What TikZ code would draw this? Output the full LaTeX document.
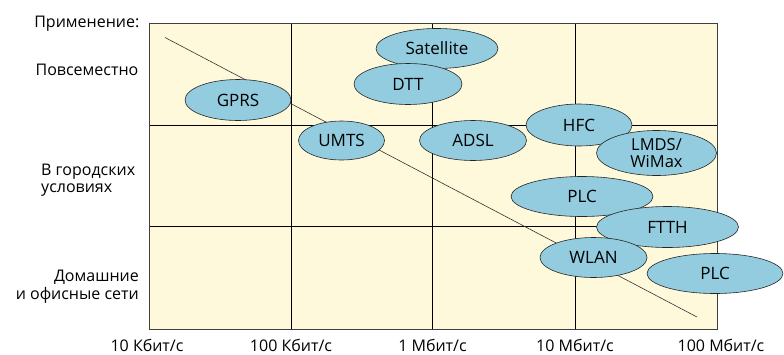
\documentclass[tikz,border=0pt]{standalone}
\usepackage{fontspec}
\setmainfont{Open Sans}
\usetikzlibrary{shapes.geometric}
\definecolor{gridbg}{RGB}{255,249,219}
\definecolor{techfill}{RGB}{146,204,222}
\begin{document}
\begin{tikzpicture}[x=1pt,y=-1pt,
  font=\fontsize{16}{18}\selectfont,
  tech/.style={ellipse,draw=black!85,line width=0.6pt,fill=techfill,inner sep=0pt,
    font=\fontsize{17}{18}\selectfont},
  gridline/.style={black,line width=0.8pt},
  axislabel/.style={anchor=base,inner sep=0pt},
  rowlabel/.style={anchor=base east,inner sep=0pt}]
\useasboundingbox (0,0) rectangle (784,354);
% chart area
\fill[gridbg] (149.5,23) rectangle (717,329);
\draw[gridline] (291.5,23) -- (291.5,329) (432.5,23) -- (432.5,329) (575.5,23) -- (575.5,329);
\draw[gridline] (149.5,125) -- (717,125) (149.5,226) -- (717,226);
\draw[black!75,line width=1pt] (149.5,23) rectangle (717,329);
% trend line
\coordinate (tstart) at (165,37.5);
\coordinate (tend) at (697,317);
\draw[black!80,line width=0.6pt] (tstart) -- (tend);
% technologies
\node[tech,minimum width=106pt,minimum height=41pt] (gprs) at (238,100) {GPRS};
\node[tech,minimum width=122pt,minimum height=40pt] (sat) at (437,48.5) {Satellite};
\node[tech,minimum width=108pt,minimum height=41pt] (dtt) at (408,84) {DTT};
\node[tech,minimum width=86pt,minimum height=39pt] (umts) at (341.5,140.5) {UMTS};
\node[tech,minimum width=107pt,minimum height=40pt] (adsl) at (473,140.5) {ADSL};
\node[tech,minimum width=106pt,minimum height=42pt] (hfc) at (579,125) {HFC};
\node[tech,minimum width=120pt,minimum height=45pt,align=center,inner ysep=-8pt,
  font=\fontsize{16.5}{17}\selectfont] (lmds) at (656.5,153) {LMDS/\\WiMax};
\node[tech,minimum width=142pt,minimum height=40pt] (plca) at (582,196.5) {PLC};
\node[tech,minimum width=142pt,minimum height=41pt] (ftth) at (667.5,227) {FTTH};
\node[tech,minimum width=107pt,minimum height=40pt] (wlan) at (593.5,257.5) {WLAN};
\node[tech,minimum width=136pt,minimum height=40pt] (plcb) at (715,273.5) {PLC};
% row labels
\node[rowlabel] (use) at (139.5,27.5) {Применение:};
\node[rowlabel] (every) at (138.5,75.5) {Повсеместно};
\node[anchor=base west,inner sep=0pt] (cityA) at (41,175) {В городских};
\node[anchor=base west,inner sep=0pt] (cityB) at (41,192.5) {условиях};
\node[rowlabel] (homeA) at (139,281) {Домашние};
\node[rowlabel] (homeB) at (139,299) {и офисные сети};
% axis labels
\node[axislabel] (r1) at (147,351) {10 Кбит/с};
\node[axislabel] (r2) at (291,351) {100 Кбит/с};
\node[axislabel] (r3) at (432.5,351) {1 Мбит/с};
\node[axislabel] (r4) at (575,351) {10 Мбит/с};
\node[axislabel] (r5) at (721,351) {100 Мбит/с};
\end{tikzpicture}
\end{document}
